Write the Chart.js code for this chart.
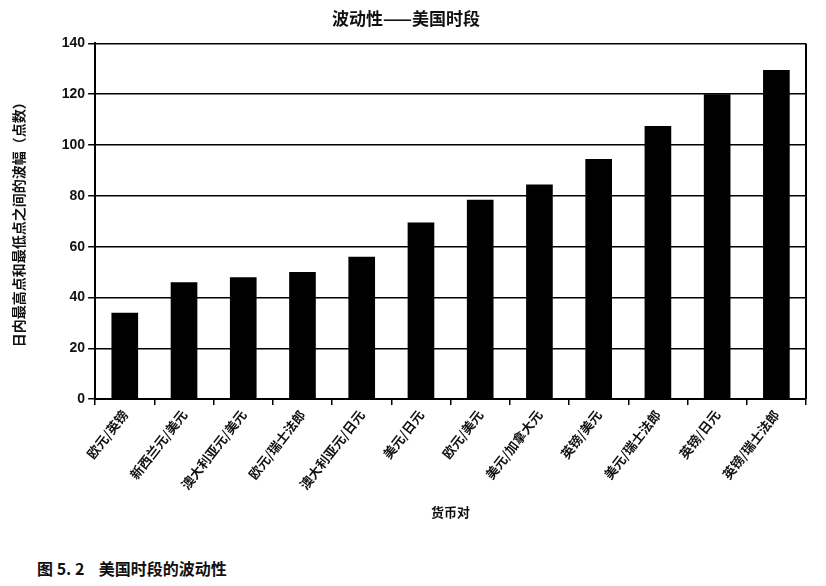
<!DOCTYPE html>
<html><head><meta charset="utf-8">
<script src="https://cdn.jsdelivr.net/npm/chart.js@4.4.0/dist/chart.umd.min.js"></script>
<style>
html,body{margin:0;padding:0;background:#fff;}
#wrap{position:absolute;left:0;top:0;width:826px;height:524px;}
#cap{position:absolute;left:37px;top:556px;font-family:"Noto Sans CJK SC";font-weight:bold;font-size:16px;color:#111;white-space:pre;}
</style></head>
<body>
<div id="wrap"><canvas id="c"></canvas></div>
<div id="cap">图 5. 2    美国时段的波动性</div>
<script>
const categories = ["欧元/英镑","新西兰元/美元","澳大利亚元/美元","欧元/瑞士法郎","澳大利亚元/日元","美元/日元","欧元/美元","美元/加拿大元","英镑/美元","美元/瑞士法郎","英镑/日元","英镑/瑞士法郎"];
const values = [34, 46, 48, 50, 56, 69.5, 78.5, 84.5, 94.5, 107.5, 120, 129.5];
const yTicks = [0, 20, 40, 60, 80, 100, 120, 140];
const FONT = "Noto Sans CJK SC";

const borderPlugin = {
  id: 'border',
  afterDraw(chart) {
    const {ctx, chartArea: a} = chart;
    ctx.save();
    ctx.strokeStyle = '#000';
    ctx.lineWidth = 2;
    ctx.beginPath();
    ctx.moveTo(a.right, a.top);
    ctx.lineTo(a.right, a.bottom);
    ctx.stroke();
    ctx.restore();
  }
};

new Chart(document.getElementById('c'), {
  type: 'bar',
  data: {
    labels: categories,
    datasets: [{ data: values, backgroundColor: '#000', borderWidth: 0, barPercentage: 0.45, categoryPercentage: 1.0 }]
  },
  options: {
    responsive: true, maintainAspectRatio: false, animation: false,
    layout: { padding: { left: 6, right: 20, top: 8, bottom: 0 } },
    plugins: {
      legend: { display: false },
      tooltip: { enabled: false },
      title: { display: true, text: '波动性——美国时段', color: '#111', font: { family: FONT, size: 17, weight: 'bold' }, padding: { top: 0, bottom: 15 } }
    },
    scales: {
      x: {
        grid: { display: true, drawOnChartArea: false, offset: true, color: '#000', tickLength: 6, lineWidth: 1.5 },
        border: { display: true, color: '#000', width: 2 },
        ticks: { color: '#111', font: { family: FONT, size: 13, weight: 'bold' }, maxRotation: 52, minRotation: 52, autoSkip: false, padding: 2 },
        title: { display: true, text: '货币对', color: '#111', font: { family: FONT, size: 13, weight: 'bold' }, padding: { top: 10 } }
      },
      y: {
        min: 0, max: 140,
        afterBuildTicks(axis) { axis.ticks = yTicks.map(v => ({ value: v })); },
        grid: { color: '#000', lineWidth: 1.5, tickLength: 7 },
        border: { display: true, color: '#000', width: 2 },
        ticks: { color: '#111', font: { family: "Liberation Sans Narrow, Liberation Sans", size: 14, weight: 'bold' }, padding: 3 },
        title: { display: true, text: '日内最高点和最低点之间的波幅（点数）', color: '#111', font: { family: FONT, size: 14, weight: 'bold' }, padding: { bottom: 32 } }
      }
    }
  },
  plugins: [borderPlugin]
});
</script>
</body></html>
